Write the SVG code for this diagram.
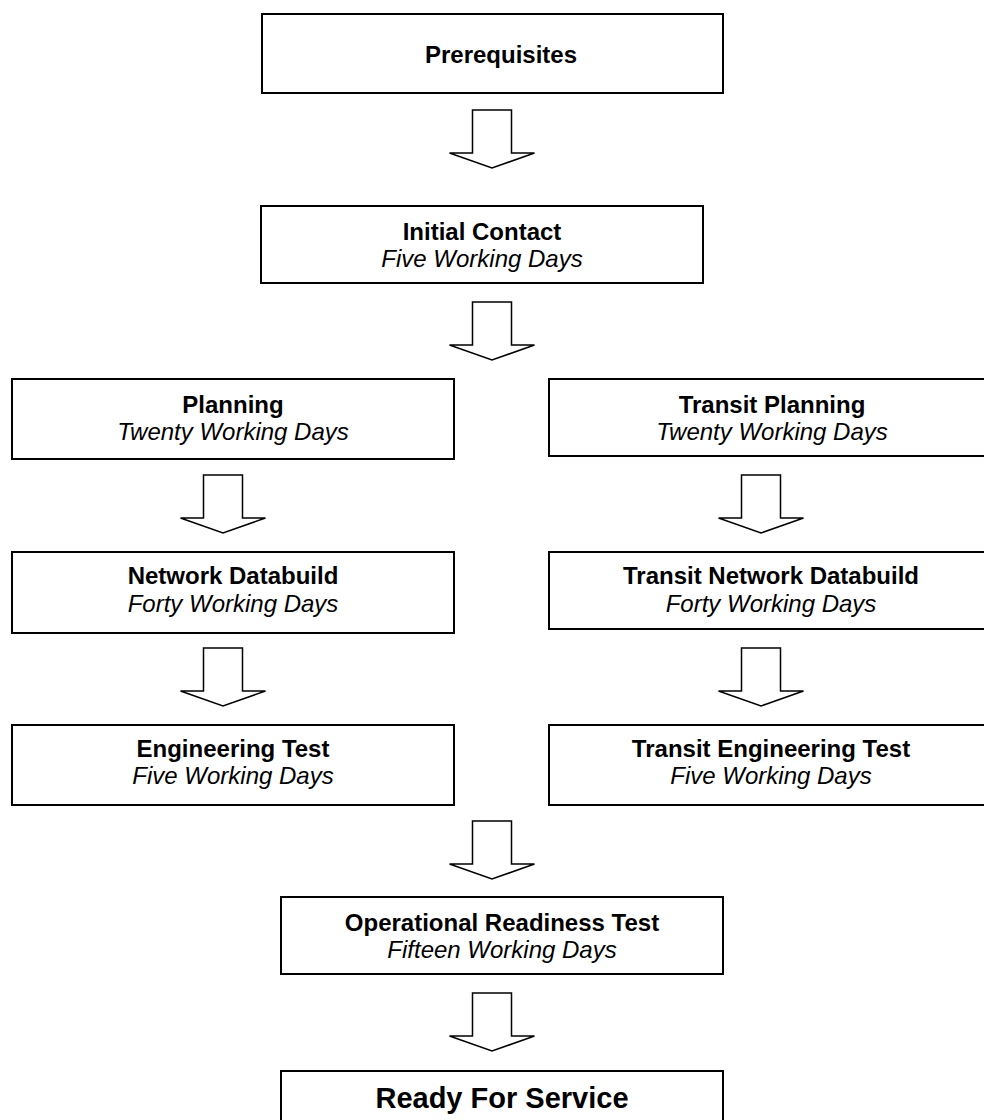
<svg xmlns="http://www.w3.org/2000/svg" width="984" height="1120" viewBox="0 0 984 1120">
  <style>
    .box { fill: #ffffff; stroke: #000000; stroke-width: 2; }
    .flow { fill: #ffffff; stroke: #000000; stroke-width: 1.5; stroke-linejoin: miter; }
    text { font-family: "Liberation Sans", Arial, Helvetica, sans-serif; fill: #000000; text-anchor: middle; }
    .title { font-size: 24px; font-weight: bold; }
    .days { font-size: 24px; font-style: italic; }
    .final { font-size: 29px; font-weight: bold; }
  </style>
  <defs>
    <!-- block arrow pointing down, origin at top centre of the shaft -->
    <path id="blockArrow" d="M -19.5 0 H 19.5 V 43 H 42.5 L 0 58 L -42.5 43 H -19.5 Z"/>
  </defs>
  <rect width="984" height="1120" fill="#ffffff"/>

  <g id="connectors">
    <use href="#blockArrow" class="flow" x="492" y="110"/>
    <use href="#blockArrow" class="flow" x="492" y="302"/>
    <use href="#blockArrow" class="flow" x="223" y="475"/>
    <use href="#blockArrow" class="flow" x="223" y="648"/>
    <use href="#blockArrow" class="flow" x="761" y="475"/>
    <use href="#blockArrow" class="flow" x="761" y="648"/>
    <use href="#blockArrow" class="flow" x="492" y="821"/>
    <use href="#blockArrow" class="flow" x="492" y="993"/>
  </g>

  <g id="prerequisites">
    <rect class="box" x="262" y="14" width="461" height="79"/>
    <text class="title" x="501" y="63">Prerequisites</text>
  </g>

  <g id="initial-contact">
    <rect class="box" x="261" y="206" width="442" height="77"/>
    <text class="title" x="482" y="240">Initial Contact</text>
    <text class="days" x="482" y="267">Five Working Days</text>
  </g>

  <g id="planning">
    <rect class="box" x="12" y="379" width="442" height="80"/>
    <text class="title" x="233" y="413">Planning</text>
    <text class="days" x="233" y="440">Twenty Working Days</text>
  </g>

  <g id="transit-planning">
    <rect class="box" x="549" y="379" width="442" height="77"/>
    <text class="title" x="772" y="413">Transit Planning</text>
    <text class="days" x="772" y="440">Twenty Working Days</text>
  </g>

  <g id="network-databuild">
    <rect class="box" x="12" y="552" width="442" height="81"/>
    <text class="title" x="233" y="584">Network Databuild</text>
    <text class="days" x="233" y="612">Forty Working Days</text>
  </g>

  <g id="transit-network-databuild">
    <rect class="box" x="549" y="552" width="442" height="77"/>
    <text class="title" x="771" y="584">Transit Network Databuild</text>
    <text class="days" x="771" y="612">Forty Working Days</text>
  </g>

  <g id="engineering-test">
    <rect class="box" x="12" y="725" width="442" height="80"/>
    <text class="title" x="233" y="757">Engineering Test</text>
    <text class="days" x="233" y="784">Five Working Days</text>
  </g>

  <g id="transit-engineering-test">
    <rect class="box" x="549" y="725" width="442" height="80"/>
    <text class="title" x="771" y="757">Transit Engineering Test</text>
    <text class="days" x="771" y="784">Five Working Days</text>
  </g>

  <g id="operational-readiness-test">
    <rect class="box" x="281" y="897" width="442" height="77"/>
    <text class="title" x="502" y="931">Operational Readiness Test</text>
    <text class="days" x="502" y="958">Fifteen Working Days</text>
  </g>

  <g id="ready-for-service">
    <rect class="box" x="281" y="1071" width="442" height="80"/>
    <text class="final" x="502" y="1108">Ready For Service</text>
  </g>
</svg>
